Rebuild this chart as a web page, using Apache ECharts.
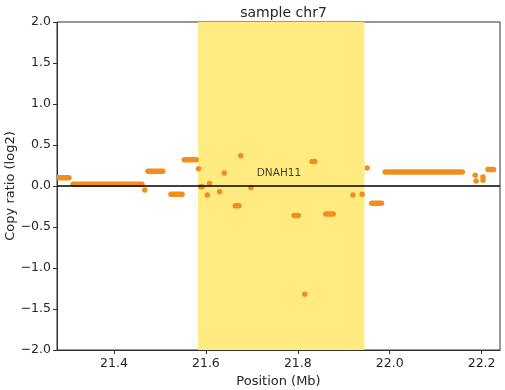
<!DOCTYPE html>
<html>
<head>
<meta charset="utf-8">
<script src="https://cdn.jsdelivr.net/npm/echarts@6/dist/echarts.min.js"></script>
<style>html,body{margin:0;padding:0;background:#fff}#c{width:505px;height:390px}</style>
</head>
<body>
<div id="c"></div>
<script>
// Segment data (Mb, log2 copy ratio); a dot is a segment whose start equals its end
const segStart = [21.27, 21.311, 21.467, 21.474, 21.524, 21.553, 21.584, 21.589, 21.603, 21.608, 21.630, 21.640, 21.664, 21.676, 21.698, 21.792, 21.815, 21.831, 21.861, 21.920, 21.940, 21.951, 21.961, 21.990, 22.186, 22.188, 22.203, 22.203, 22.214];
const segEnd   = [21.302, 21.461, 21.467, 21.506, 21.548, 21.579, 21.584, 21.592, 21.603, 21.608, 21.630, 21.640, 21.672, 21.676, 21.698, 21.801, 21.815, 21.837, 21.877, 21.920, 21.940, 21.951, 21.982, 22.158, 22.186, 22.188, 22.203, 22.203, 22.226];
const segValue = [0.10, 0.02, -0.05, 0.18, -0.10, 0.32, 0.21, -0.01, -0.11, 0.03, -0.07, 0.16, -0.24, 0.37, -0.02, -0.36, -1.32, 0.30, -0.34, -0.11, -0.10, 0.22, -0.21, 0.17, 0.13, 0.06, 0.07, 0.11, 0.20];
const geneRegion = [21.583, 21.945];
const geneName = 'DNAH11';
const geneLabelPos = [21.759, 0.15];
const xTicks = [21.4, 21.6, 21.8, 22.0, 22.2];
const yTicks = [-2.0, -1.5, -1.0, -0.5, 0.0, 0.5, 1.0, 1.5, 2.0];
const xRange = [21.276, 22.24];
const yRange = [-2, 2];

const fmt = v => v.toFixed(1).replace('-', '\u2212');
const font = 'DejaVu Sans';
const txt = '#262626';
const segColor = '#f28e1c';
const segW = 5.5;

const chart = echarts.init(document.getElementById('c'), null, {renderer: 'canvas'});
chart.setOption({
  animation: false,
  backgroundColor: '#fff',
  title: {
    text: 'sample chr7', left: 278.5, top: 1, textAlign: 'center',
    textStyle: {fontFamily: font, fontSize: 14, fontWeight: 'normal', color: txt}
  },
  grid: {left: 57, right: 5, top: 22, bottom: 40, show: true, borderColor: '#333', borderWidth: 1, backgroundColor: 'transparent', containLabel: false, outerBoundsMode: 'none'},
  xAxis: {
    type: 'value', min: xRange[0], max: xRange[1],
    name: 'Position (Mb)', nameLocation: 'middle', nameGap: 24,
    nameTextStyle: {fontFamily: font, fontSize: 13, color: txt},
    axisLine: {show: true, onZero: false, lineStyle: {color: '#333', width: 1}},
    axisTick: {show: true, length: 4, customValues: xTicks, lineStyle: {color: '#333'}},
    axisLabel: {customValues: xTicks, formatter: fmt, fontFamily: font, fontSize: 12.5, color: txt, margin: 7},
    splitLine: {show: false}
  },
  yAxis: {
    type: 'value', min: yRange[0], max: yRange[1], interval: 0.5,
    name: 'Copy ratio (log2)', nameLocation: 'middle', nameGap: 40, nameRotate: 90, nameMoveOverlap: false,
    nameTextStyle: {fontFamily: font, fontSize: 13, color: txt},
    axisLine: {show: true, lineStyle: {color: '#333', width: 1}},
    axisTick: {show: true, length: 4, customValues: yTicks, lineStyle: {color: '#333'}},
    axisLabel: {customValues: yTicks, formatter: fmt, fontFamily: font, fontSize: 12.5, color: txt, margin: 6},
    splitLine: {show: false}
  },
  series: [
    {
      type: 'line', data: [], z: 1, silent: true,
      markArea: {silent: true, itemStyle: {color: '#ffeb80', opacity: 1}, data: [[{xAxis: geneRegion[0]}, {xAxis: geneRegion[1]}]]}
    },
    {
      type: 'custom', z: 3, clip: true, silent: true,
      data: segStart.map((s, i) => [s, segEnd[i], segValue[i]]),
      renderItem: function (params, api) {
        const p0 = api.coord([api.value(0), api.value(2)]);
        const p1 = api.coord([api.value(1), api.value(2)]);
        if (Math.abs(p1[0] - p0[0]) < 0.5) {
          return {type: 'circle', shape: {cx: p0[0], cy: p0[1], r: segW / 2}, style: {fill: segColor}};
        }
        return {
          type: 'line',
          shape: {x1: p0[0], y1: p0[1], x2: p1[0], y2: p1[1]},
          style: {stroke: segColor, lineWidth: segW, lineCap: 'round'}
        };
      }
    },
    {
      type: 'line', data: [], z: 4, silent: true,
      markLine: {silent: true, symbol: 'none', label: {show: false}, lineStyle: {color: '#000', width: 1.5, type: 'solid'}, data: [{yAxis: 0}]}
    },
    {
      type: 'scatter', z: 5, silent: true, symbolSize: 0,
      data: [geneLabelPos],
      label: {show: true, position: 'inside', formatter: geneName, fontFamily: font, fontSize: 10.5, color: '#111'}
    }
  ]
});
</script>
</body>
</html>
